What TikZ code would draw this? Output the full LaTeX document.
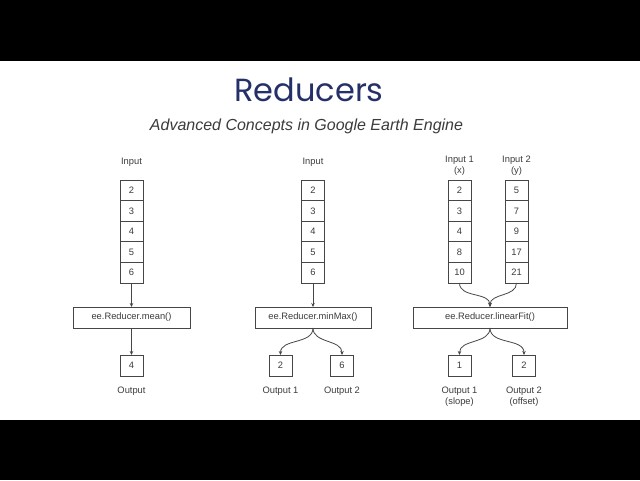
\documentclass[tikz,border=0pt]{standalone}
\usepackage{fontspec}
\setmainfont{Liberation Sans}
\newfontfamily\titlefont{Poppins}
\usetikzlibrary{arrows.meta}

\definecolor{titleblue}{RGB}{38,48,104}
\definecolor{linegray}{RGB}{70,70,70}
\definecolor{textgray}{RGB}{60,60,60}

\tikzset{every picture/.style={line width=0.75pt}}
\tikzset{
  cell/.style={draw=linegray, line width=0.6pt, inner sep=0pt, outer sep=0pt,
    minimum width=17.25pt, minimum height=15.45pt, font=\fontsize{7}{8}\selectfont, text=textgray},
  outbox/.style={cell, minimum height=15.75pt},
  reducer/.style={draw=linegray, line width=0.6pt, inner sep=0pt, outer sep=0pt,
    minimum height=15.75pt, font=\fontsize{7}{8}\selectfont, text=textgray},
  lbl/.style={inner sep=0.75pt, align=center, font=\fontsize{7}{8.2}\selectfont, text=textgray},
  arr/.style={draw=linegray, line width=0.6pt, -{Stealth[length=3pt,width=2.6pt]}}
}

\begin{document}
\begin{tikzpicture}[x=0.75pt,y=0.75pt,yscale=-1,xscale=1]
\useasboundingbox (0,0) rectangle (640,480);

%Black bars
\fill[black] (0,0) rectangle (640,61);
\fill[white] (0,61) rectangle (640,420);
\fill[black] (0,420) rectangle (640,480);

% Title
\draw (309,90) node [inner sep=0pt, text=titleblue, font=\titlefont\fontsize{24}{28}\selectfont] (title) {Reducers};
% Subtitle
\draw (306.5,126.5) node [inner sep=0pt, text=textgray, font=\itshape\fontsize{12}{14}\selectfont] (subtitle) {Advanced Concepts in Google Earth Engine};

%%% mean
% Text Node
\draw (131.5,162) node [lbl] (inA) {Input};
% Cells
\draw (131.5,190.3) node [cell] (a1) {2};
\draw (131.5,210.9) node [cell] (a2) {3};
\draw (131.5,231.5) node [cell] (a3) {4};
\draw (131.5,252.1) node [cell] (a4) {5};
\draw (131.5,272.7) node [cell] (a5) {6};
% Reducer
\draw (131.5,317.5) node [reducer, minimum width=87.75pt] (redA) {ee.Reducer.mean()};
% Output
\draw (131.5,365.5) node [outbox] (outA) {4};
% Text Node
\draw (131.5,391.5) node [lbl] (outlblA) {Output};

%Straight Lines
\draw [arr] (a5.south) -- (redA.north);
\draw [arr] (redA.south) -- (outA.north);

%%% minMax
% Text Node
\draw (313,162) node [lbl] (inB) {Input};
% Cells
\draw (313,190.3) node [cell] (b1) {2};
\draw (313,210.9) node [cell] (b2) {3};
\draw (313,231.5) node [cell] (b3) {4};
\draw (313,252.1) node [cell] (b4) {5};
\draw (313,272.7) node [cell] (b5) {6};
% Reducer
\draw (313,317.5) node [reducer, minimum width=87pt] (redB) {ee.Reducer.minMax()};
% Outputs
\draw (280.5,365.5) node [outbox] (outB1) {2};
\draw (342,365.5) node [outbox] (outB2) {6};
% Text Node
\draw (280.5,391.5) node [lbl] (outlblB1) {Output 1};
% Text Node
\draw (342,391.5) node [lbl] (outlblB2) {Output 2};

%Straight Lines
\draw [arr] (b5.south) -- (redB.north);
%Curve Lines
\draw [arr] (redB.south) to[out=90,in=-90] (outB1.north);
\draw [arr] (redB.south) to[out=90,in=-90] (outB2.north);

%%% linearFit
% Text Node
\draw (459.5,166) node [lbl] (inC1) {Input 1\\(x)};
% Text Node
\draw (516.5,166) node [lbl] (inC2) {Input 2\\(y)};
% Cells
\draw (459.5,190.3) node [cell] (c1) {2};
\draw (459.5,210.9) node [cell] (c2) {3};
\draw (459.5,231.5) node [cell] (c3) {4};
\draw (459.5,252.1) node [cell] (c4) {8};
\draw (459.5,272.7) node [cell] (c5) {10};
\draw (516.5,190.3) node [cell] (d1) {5};
\draw (516.5,210.9) node [cell] (d2) {7};
\draw (516.5,231.5) node [cell] (d3) {9};
\draw (516.5,252.1) node [cell] (d4) {17};
\draw (516.5,272.7) node [cell] (d5) {21};
% Reducer
\draw (490,317.5) node [reducer, minimum width=115.5pt] (redC) {ee.Reducer.linearFit()};
% Outputs
\draw (459.5,365.5) node [outbox] (outC1) {1};
\draw (524,365.5) node [outbox] (outC2) {2};
% Text Node
\draw (459.5,396.5) node [lbl] (outlblC1) {Output 1\\(slope)};
% Text Node
\draw (524,396.5) node [lbl] (outlblC2) {Output 2\\(offset)};

%Curve Lines
\draw [arr] (c5.south) to[out=90,in=-90] (redC.north);
\draw [arr] (d5.south) to[out=90,in=-90] (redC.north);
\draw [arr] (redC.south) to[out=90,in=-90] (outC1.north);
\draw [arr] (redC.south) to[out=90,in=-90] (outC2.north);

\end{tikzpicture}
\end{document}
